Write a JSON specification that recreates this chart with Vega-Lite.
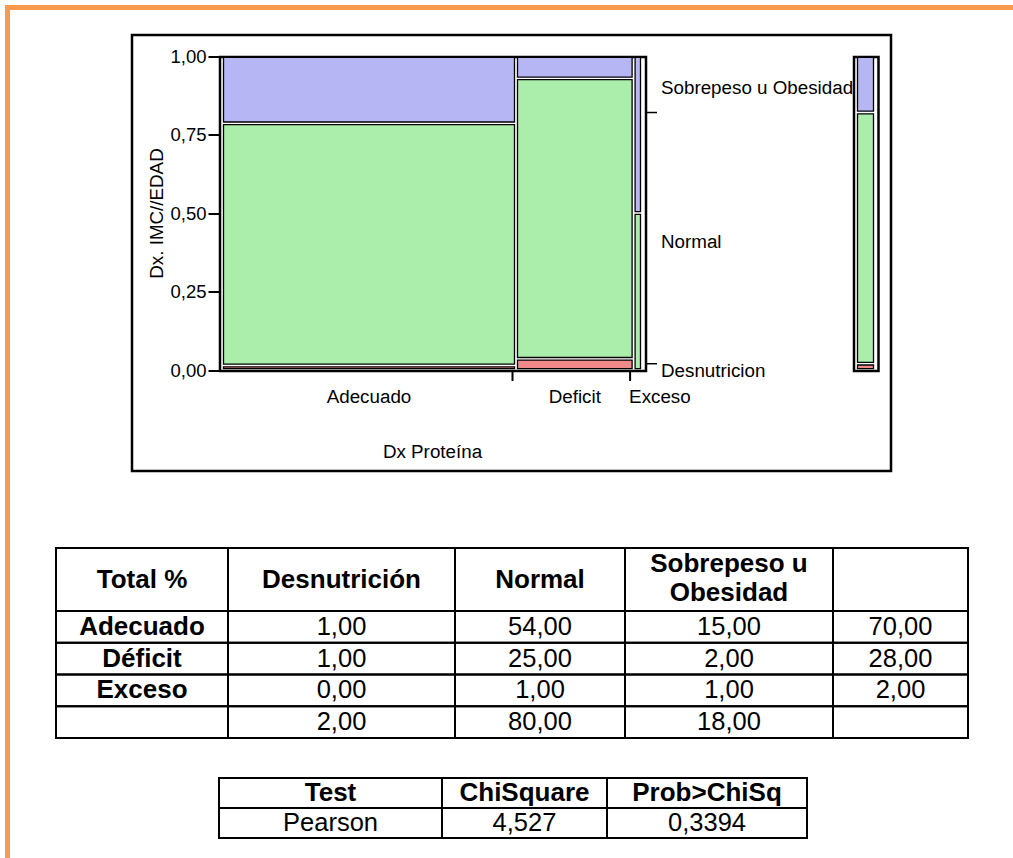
{
  "$schema": "https://vega.github.io/schema/vega-lite/v6.json",
  "width": 1005.5,
  "height": 850.5,
  "autosize": {"type": "none"},
  "padding": {"left": 7.5, "top": 7.5, "right": 0, "bottom": 0},
  "background": "white",
  "config": {
    "view": {"stroke": null},
    "font": "Liberation Sans",
    "locale": {"number": {"decimal": ",", "thousands": ".", "grouping": [3], "currency": ["", " €"]}},
    "axis": {"labelColor": "black", "titleColor": "black", "tickColor": "black", "domainColor": "black", "labelFont": "Liberation Sans", "titleFont": "Liberation Sans", "grid": false},
    "text": {"color": "black", "font": "Liberation Sans"}
  },
  "datasets": {
    "mosaico": [
      {"proteina": "Adecuado", "imc": "Desnutricion", "x0": 0, "x1": 0.70, "y0": 0, "y1": 0.0143},
      {"proteina": "Adecuado", "imc": "Normal", "x0": 0, "x1": 0.70, "y0": 0.0143, "y1": 0.7857},
      {"proteina": "Adecuado", "imc": "Sobrepeso u Obesidad", "x0": 0, "x1": 0.70, "y0": 0.7857, "y1": 1},
      {"proteina": "Deficit", "imc": "Desnutricion", "x0": 0.70, "x1": 0.98, "y0": 0, "y1": 0.0357},
      {"proteina": "Deficit", "imc": "Normal", "x0": 0.70, "x1": 0.98, "y0": 0.0357, "y1": 0.9286},
      {"proteina": "Deficit", "imc": "Sobrepeso u Obesidad", "x0": 0.70, "x1": 0.98, "y0": 0.9286, "y1": 1},
      {"proteina": "Exceso", "imc": "Normal", "x0": 0.98, "x1": 1, "y0": 0, "y1": 0.5},
      {"proteina": "Exceso", "imc": "Sobrepeso u Obesidad", "x0": 0.98, "x1": 1, "y0": 0.5, "y1": 1}
    ],
    "margen": [
      {"grupo": "Total", "imc": "Desnutricion", "y0": 0, "y1": 0.02},
      {"grupo": "Total", "imc": "Normal", "y0": 0.02, "y1": 0.82},
      {"grupo": "Total", "imc": "Sobrepeso u Obesidad", "y0": 0.82, "y1": 1}
    ],
    "columnas": [
      {"columna": "Total %", "titulo": "Total %"},
      {"columna": "Desnutrición", "titulo": "Desnutrición"},
      {"columna": "Normal", "titulo": "Normal"},
      {"columna": "Sobrepeso u Obesidad", "titulo": "Sobrepeso u\nObesidad"},
      {"columna": "Total", "titulo": ""}
    ],
    "filas": [{"fila": "Adecuado"}, {"fila": "Déficit"}, {"fila": "Exceso"}, {"fila": "Total"}],
    "tabla": [
      {"fila": "Adecuado", "columna": "Desnutrición", "porcentaje": 1},
      {"fila": "Adecuado", "columna": "Normal", "porcentaje": 54},
      {"fila": "Adecuado", "columna": "Sobrepeso u Obesidad", "porcentaje": 15},
      {"fila": "Adecuado", "columna": "Total", "porcentaje": 70},
      {"fila": "Déficit", "columna": "Desnutrición", "porcentaje": 1},
      {"fila": "Déficit", "columna": "Normal", "porcentaje": 25},
      {"fila": "Déficit", "columna": "Sobrepeso u Obesidad", "porcentaje": 2},
      {"fila": "Déficit", "columna": "Total", "porcentaje": 28},
      {"fila": "Exceso", "columna": "Desnutrición", "porcentaje": 0},
      {"fila": "Exceso", "columna": "Normal", "porcentaje": 1},
      {"fila": "Exceso", "columna": "Sobrepeso u Obesidad", "porcentaje": 1},
      {"fila": "Exceso", "columna": "Total", "porcentaje": 2},
      {"fila": "Total", "columna": "Desnutrición", "porcentaje": 2},
      {"fila": "Total", "columna": "Normal", "porcentaje": 80},
      {"fila": "Total", "columna": "Sobrepeso u Obesidad", "porcentaje": 18}
    ],
    "columnas_prueba": [{"columna": "Test"}, {"columna": "ChiSquare"}, {"columna": "Prob>ChiSq"}],
    "prueba": [{"prueba": "Pearson", "chi2": 4.527, "prob": 0.3394}]
  },
  "resolve": {"scale": {"x": "independent", "y": "independent"}},
  "layer": [
    {
      "data": {"values": [{}]},
      "mark": {"type": "rule", "color": "#F99A4E", "strokeWidth": 5},
      "encoding": {
        "x": {"datum": 0, "type": "quantitative", "scale": {"domain": [0, 1], "range": [-2.5, 1005.5], "nice": false, "zero": false}, "axis": null},
        "x2": {"datum": 1},
        "y": {"datum": 0, "type": "quantitative", "scale": {"domain": [0, 1], "range": [0, 850.5], "nice": false, "zero": false}, "axis": null}
      }
    },
    {
      "data": {"values": [{}]},
      "mark": {"type": "rule", "color": "#F99A4E", "strokeWidth": 5},
      "encoding": {
        "x": {"datum": 0, "type": "quantitative", "scale": {"domain": [0, 1], "range": [0, 1005.5], "nice": false, "zero": false}, "axis": null},
        "y": {"datum": 0, "type": "quantitative", "scale": {"domain": [0, 1], "range": [-2.5, 850.5], "nice": false, "zero": false}, "axis": null},
        "y2": {"datum": 1}
      }
    },
    {
      "data": {"values": [{}]},
      "mark": {"type": "rect", "filled": false, "stroke": "black", "strokeWidth": 2.5},
      "encoding": {
        "x": {"datum": "panel", "type": "nominal", "scale": {"type": "band", "domain": ["panel"], "range": [124.5, 883.5], "padding": 0}, "axis": null},
        "y": {"datum": "panel", "type": "nominal", "scale": {"type": "band", "domain": ["panel"], "range": [27.5, 463.5], "padding": 0}, "axis": null}
      }
    },
    {
      "data": {"values": [{}]},
      "mark": {"type": "rect", "filled": false, "stroke": "black", "strokeWidth": 2.5},
      "encoding": {
        "x": {"datum": "mosaico", "type": "nominal", "scale": {"type": "band", "domain": ["mosaico"], "range": [212.5, 638.5], "padding": 0}, "axis": null},
        "y": {"datum": "mosaico", "type": "nominal", "scale": {"type": "band", "domain": ["mosaico"], "range": [49.5, 363.5], "padding": 0}, "axis": null}
      }
    },
    {
      "data": {"name": "mosaico"},
      "mark": {"type": "rect", "stroke": "black", "strokeWidth": 1.3, "xOffset": 1.5, "x2Offset": -1.5, "yOffset": -1.3, "y2Offset": 1.3},
      "encoding": {
        "x": {"field": "x0", "type": "quantitative", "scale": {"domain": [0, 1], "range": [214.5, 634.5], "nice": false, "zero": false},
          "axis": {"orient": "bottom", "offset": -487, "ticks": false, "labels": false, "domain": false, "grid": false, "title": "Dx Proteína", "titleFontSize": 18.8, "titleFontWeight": "normal", "titleY": 80, "titleBaseline": "middle"}},
        "x2": {"field": "x1"},
        "y": {"field": "y0", "type": "quantitative", "scale": {"domain": [0, 1], "range": [362.5, 48.5], "nice": false, "zero": false},
          "axis": {"orient": "left", "offset": -212.5, "values": [0, 0.25, 0.5, 0.75, 1], "format": ".2f", "domain": false, "grid": false, "tickSize": 12, "tickWidth": 2, "labelPadding": 2, "labelFontSize": 18.5, "labelFlush": false, "labelOverlap": false, "title": "Dx. IMC//EDAD", "titleFontSize": 18.8, "titleFontWeight": "normal", "titleX": -64, "titleBaseline": "middle"}},
        "y2": {"field": "y1"},
        "color": {"field": "imc", "type": "nominal", "scale": {"domain": ["Desnutricion", "Normal", "Sobrepeso u Obesidad"], "range": ["#F08A8A", "#ABEDAB", "#B6B6F4"]}, "legend": null}
      }
    },
    {
      "data": {"name": "mosaico"},
      "transform": [{"filter": "datum.imc === 'Normal' && datum.x1 < 1"}],
      "mark": {"type": "rule", "color": "black", "strokeWidth": 2, "xOffset": -3.5, "yOffset": 1, "y2Offset": 11},
      "encoding": {
        "x": {"field": "x1", "type": "quantitative", "scale": {"domain": [0, 1], "range": [214.5, 634.5], "nice": false, "zero": false}, "axis": null},
        "y": {"datum": 0, "type": "quantitative", "scale": {"domain": [0, 1], "range": [362.5, 48.5], "nice": false, "zero": false}, "axis": null},
        "y2": {"datum": 0}
      }
    },
    {
      "data": {"name": "mosaico"},
      "transform": [
        {"filter": "datum.proteina !== 'Exceso'"},
        {"fold": ["x0", "x1"], "as": ["borde", "posicion"]},
        {"aggregate": [{"op": "mean", "field": "posicion", "as": "centro"}], "groupby": ["proteina"]}
      ],
      "mark": {"type": "text", "fontSize": 18.8, "baseline": "middle", "dy": 26.5},
      "encoding": {
        "x": {"field": "centro", "type": "quantitative", "scale": {"domain": [0, 1], "range": [214.5, 634.5], "nice": false, "zero": false}, "axis": null},
        "y": {"datum": 0, "type": "quantitative", "scale": {"domain": [0, 1], "range": [362.5, 48.5], "nice": false, "zero": false}, "axis": null},
        "text": {"field": "proteina"}
      }
    },
    {
      "data": {"name": "mosaico"},
      "transform": [
        {"filter": "datum.proteina === 'Exceso'"},
        {"aggregate": [{"op": "min", "field": "x0", "as": "inicio"}], "groupby": ["proteina"]}
      ],
      "mark": {"type": "text", "fontSize": 18.8, "baseline": "middle", "align": "left", "dx": -4.5, "dy": 26.5},
      "encoding": {
        "x": {"field": "inicio", "type": "quantitative", "scale": {"domain": [0, 1], "range": [214.5, 634.5], "nice": false, "zero": false}, "axis": null},
        "y": {"datum": 0, "type": "quantitative", "scale": {"domain": [0, 1], "range": [362.5, 48.5], "nice": false, "zero": false}, "axis": null},
        "text": {"field": "proteina"}
      }
    },
    {
      "data": {"name": "margen"},
      "transform": [{"filter": "datum.y1 < 1"}],
      "mark": {"type": "rule", "color": "black", "strokeWidth": 1.5, "xOffset": 4, "x2Offset": 15},
      "encoding": {
        "y": {"field": "y1", "type": "quantitative", "scale": {"domain": [0, 1], "range": [362.5, 48.5], "nice": false, "zero": false}, "axis": null},
        "x": {"datum": 1, "type": "quantitative", "scale": {"domain": [0, 1], "range": [214.5, 634.5], "nice": false, "zero": false}, "axis": null},
        "x2": {"datum": 1}
      }
    },
    {
      "data": {"name": "margen"},
      "transform": [
        {"fold": ["y0", "y1"], "as": ["borde", "posicion"]},
        {"aggregate": [{"op": "mean", "field": "posicion", "as": "centro"}], "groupby": ["imc"]}
      ],
      "mark": {"type": "text", "fontSize": 18.8, "align": "left", "baseline": "middle", "dx": 19, "dy": 4},
      "encoding": {
        "x": {"datum": 1, "type": "quantitative", "scale": {"domain": [0, 1], "range": [214.5, 634.5], "nice": false, "zero": false}, "axis": null},
        "y": {"field": "centro", "type": "quantitative", "scale": {"domain": [0, 1], "range": [362.5, 48.5], "nice": false, "zero": false}, "axis": null},
        "text": {"field": "imc"}
      }
    },
    {
      "data": {"values": [{}]},
      "mark": {"type": "rect", "filled": false, "stroke": "black", "strokeWidth": 2.5},
      "encoding": {
        "x": {"datum": "margen", "type": "nominal", "scale": {"type": "band", "domain": ["margen"], "range": [846.5, 871], "padding": 0}, "axis": null},
        "y": {"datum": "margen", "type": "nominal", "scale": {"type": "band", "domain": ["margen"], "range": [49.5, 363.5], "padding": 0}, "axis": null}
      }
    },
    {
      "data": {"name": "margen"},
      "mark": {"type": "rect", "stroke": "black", "strokeWidth": 1.3, "yOffset": -1.3, "y2Offset": 1.3},
      "encoding": {
        "x": {"field": "grupo", "type": "nominal", "scale": {"type": "band", "domain": ["Total"], "range": [850, 866], "padding": 0}, "axis": null},
        "y": {"field": "y0", "type": "quantitative", "scale": {"domain": [0, 1], "range": [362.5, 48.5], "nice": false, "zero": false}, "axis": null},
        "y2": {"field": "y1"},
        "color": {"field": "imc", "type": "nominal", "scale": {"domain": ["Desnutricion", "Normal", "Sobrepeso u Obesidad"], "range": ["#F08A8A", "#ABEDAB", "#B6B6F4"]}, "legend": null}
      }
    },

    {
      "data": {"name": "columnas"},
      "transform": [{"filter": {"field": "columna", "equal": "Total %"}}],
      "mark": {"type": "rect", "filled": false, "stroke": "black", "strokeWidth": 2},
      "encoding": {
        "x": {"field": "columna", "type": "nominal", "scale": {"type": "band", "domain": ["Total %"], "range": [48.5, 220.5], "padding": 0}, "axis": null},
        "y": {"datum": "tabla", "type": "nominal", "scale": {"type": "band", "domain": ["tabla"], "range": [540.5, 730.5], "padding": 0}, "axis": null}
      }
    },
    {
      "data": {"name": "columnas"},
      "transform": [{"filter": {"field": "columna", "equal": "Desnutrición"}}],
      "mark": {"type": "rect", "filled": false, "stroke": "black", "strokeWidth": 2},
      "encoding": {
        "x": {"field": "columna", "type": "nominal", "scale": {"type": "band", "domain": ["Desnutrición"], "range": [220.5, 447.5], "padding": 0}, "axis": null},
        "y": {"datum": "tabla", "type": "nominal", "scale": {"type": "band", "domain": ["tabla"], "range": [540.5, 730.5], "padding": 0}, "axis": null}
      }
    },
    {
      "data": {"name": "columnas"},
      "transform": [{"filter": {"field": "columna", "equal": "Normal"}}],
      "mark": {"type": "rect", "filled": false, "stroke": "black", "strokeWidth": 2},
      "encoding": {
        "x": {"field": "columna", "type": "nominal", "scale": {"type": "band", "domain": ["Normal"], "range": [447.5, 617.5], "padding": 0}, "axis": null},
        "y": {"datum": "tabla", "type": "nominal", "scale": {"type": "band", "domain": ["tabla"], "range": [540.5, 730.5], "padding": 0}, "axis": null}
      }
    },
    {
      "data": {"name": "columnas"},
      "transform": [{"filter": {"field": "columna", "equal": "Sobrepeso u Obesidad"}}],
      "mark": {"type": "rect", "filled": false, "stroke": "black", "strokeWidth": 2},
      "encoding": {
        "x": {"field": "columna", "type": "nominal", "scale": {"type": "band", "domain": ["Sobrepeso u Obesidad"], "range": [617.5, 825.5], "padding": 0}, "axis": null},
        "y": {"datum": "tabla", "type": "nominal", "scale": {"type": "band", "domain": ["tabla"], "range": [540.5, 730.5], "padding": 0}, "axis": null}
      }
    },
    {
      "data": {"name": "columnas"},
      "transform": [{"filter": {"field": "columna", "equal": "Total"}}],
      "mark": {"type": "rect", "filled": false, "stroke": "black", "strokeWidth": 2},
      "encoding": {
        "x": {"field": "columna", "type": "nominal", "scale": {"type": "band", "domain": ["Total"], "range": [825.5, 960.5], "padding": 0}, "axis": null},
        "y": {"datum": "tabla", "type": "nominal", "scale": {"type": "band", "domain": ["tabla"], "range": [540.5, 730.5], "padding": 0}, "axis": null}
      }
    },
    {
      "data": {"name": "filas"},
      "mark": {"type": "rect", "filled": false, "stroke": "black", "strokeWidth": 2},
      "encoding": {
        "x": {"datum": "tabla", "type": "nominal", "scale": {"type": "band", "domain": ["tabla"], "range": [48.5, 960.5], "padding": 0}, "axis": null},
        "y": {"field": "fila", "type": "nominal", "scale": {"type": "band", "domain": ["Adecuado", "Déficit", "Exceso", "Total"], "range": [603.5, 730.5], "padding": 0}, "axis": null}
      }
    },
    {
      "data": {"name": "columnas"},
      "transform": [{"filter": {"field": "columna", "equal": "Total %"}}],
      "mark": {"type": "text", "fontSize": 26, "fontWeight": "bold", "baseline": "middle"},
      "encoding": {
        "x": {"field": "columna", "type": "nominal", "scale": {"type": "band", "domain": ["Total %"], "range": [48.5, 220.5], "padding": 0}, "axis": null},
        "y": {"datum": "encabezado", "type": "nominal", "scale": {"type": "band", "domain": ["encabezado"], "range": [540.5, 603.5], "padding": 0}, "axis": null},
        "text": {"field": "titulo"}
      }
    },
    {
      "data": {"name": "columnas"},
      "transform": [{"filter": {"field": "columna", "equal": "Desnutrición"}}],
      "mark": {"type": "text", "fontSize": 26, "fontWeight": "bold", "baseline": "middle"},
      "encoding": {
        "x": {"field": "columna", "type": "nominal", "scale": {"type": "band", "domain": ["Desnutrición"], "range": [220.5, 447.5], "padding": 0}, "axis": null},
        "y": {"datum": "encabezado", "type": "nominal", "scale": {"type": "band", "domain": ["encabezado"], "range": [540.5, 603.5], "padding": 0}, "axis": null},
        "text": {"field": "titulo"}
      }
    },
    {
      "data": {"name": "columnas"},
      "transform": [{"filter": {"field": "columna", "equal": "Normal"}}],
      "mark": {"type": "text", "fontSize": 26, "fontWeight": "bold", "baseline": "middle"},
      "encoding": {
        "x": {"field": "columna", "type": "nominal", "scale": {"type": "band", "domain": ["Normal"], "range": [447.5, 617.5], "padding": 0}, "axis": null},
        "y": {"datum": "encabezado", "type": "nominal", "scale": {"type": "band", "domain": ["encabezado"], "range": [540.5, 603.5], "padding": 0}, "axis": null},
        "text": {"field": "titulo"}
      }
    },
    {
      "data": {"name": "columnas"},
      "transform": [{"filter": {"field": "columna", "equal": "Sobrepeso u Obesidad"}}],
      "mark": {"type": "text", "fontSize": 26, "fontWeight": "bold", "baseline": "middle", "lineBreak": "\n", "lineHeight": 29, "dy": -15.5},
      "encoding": {
        "x": {"field": "columna", "type": "nominal", "scale": {"type": "band", "domain": ["Sobrepeso u Obesidad"], "range": [617.5, 825.5], "padding": 0}, "axis": null},
        "y": {"datum": "encabezado", "type": "nominal", "scale": {"type": "band", "domain": ["encabezado"], "range": [540.5, 603.5], "padding": 0}, "axis": null},
        "text": {"field": "titulo"}
      }
    },
    {
      "data": {"name": "filas"},
      "transform": [{"filter": "datum.fila !== 'Total'"}],
      "mark": {"type": "text", "fontSize": 26, "fontWeight": "bold", "baseline": "middle"},
      "encoding": {
        "x": {"datum": "Total %", "type": "nominal", "scale": {"type": "band", "domain": ["Total %"], "range": [48.5, 220.5], "padding": 0}, "axis": null},
        "y": {"field": "fila", "type": "nominal", "scale": {"type": "band", "domain": ["Adecuado", "Déficit", "Exceso", "Total"], "range": [603.5, 730.5], "padding": 0}, "axis": null},
        "text": {"field": "fila"}
      }
    },
    {
      "data": {"name": "tabla"},
      "transform": [{"filter": {"field": "columna", "equal": "Desnutrición"}}],
      "mark": {"type": "text", "fontSize": 25.5, "baseline": "middle"},
      "encoding": {
        "x": {"field": "columna", "type": "nominal", "scale": {"type": "band", "domain": ["Desnutrición"], "range": [220.5, 447.5], "padding": 0}, "axis": null},
        "y": {"field": "fila", "type": "nominal", "scale": {"type": "band", "domain": ["Adecuado", "Déficit", "Exceso", "Total"], "range": [603.5, 730.5], "padding": 0}, "axis": null},
        "text": {"field": "porcentaje", "type": "quantitative", "format": ".2f"}
      }
    },
    {
      "data": {"name": "tabla"},
      "transform": [{"filter": {"field": "columna", "equal": "Normal"}}],
      "mark": {"type": "text", "fontSize": 25.5, "baseline": "middle"},
      "encoding": {
        "x": {"field": "columna", "type": "nominal", "scale": {"type": "band", "domain": ["Normal"], "range": [447.5, 617.5], "padding": 0}, "axis": null},
        "y": {"field": "fila", "type": "nominal", "scale": {"type": "band", "domain": ["Adecuado", "Déficit", "Exceso", "Total"], "range": [603.5, 730.5], "padding": 0}, "axis": null},
        "text": {"field": "porcentaje", "type": "quantitative", "format": ".2f"}
      }
    },
    {
      "data": {"name": "tabla"},
      "transform": [{"filter": {"field": "columna", "equal": "Sobrepeso u Obesidad"}}],
      "mark": {"type": "text", "fontSize": 25.5, "baseline": "middle"},
      "encoding": {
        "x": {"field": "columna", "type": "nominal", "scale": {"type": "band", "domain": ["Sobrepeso u Obesidad"], "range": [617.5, 825.5], "padding": 0}, "axis": null},
        "y": {"field": "fila", "type": "nominal", "scale": {"type": "band", "domain": ["Adecuado", "Déficit", "Exceso", "Total"], "range": [603.5, 730.5], "padding": 0}, "axis": null},
        "text": {"field": "porcentaje", "type": "quantitative", "format": ".2f"}
      }
    },
    {
      "data": {"name": "tabla"},
      "transform": [{"filter": {"field": "columna", "equal": "Total"}}],
      "mark": {"type": "text", "fontSize": 25.5, "baseline": "middle"},
      "encoding": {
        "x": {"field": "columna", "type": "nominal", "scale": {"type": "band", "domain": ["Total"], "range": [825.5, 960.5], "padding": 0}, "axis": null},
        "y": {"field": "fila", "type": "nominal", "scale": {"type": "band", "domain": ["Adecuado", "Déficit", "Exceso", "Total"], "range": [603.5, 730.5], "padding": 0}, "axis": null},
        "text": {"field": "porcentaje", "type": "quantitative", "format": ".2f"}
      }
    },

    {
      "data": {"name": "columnas_prueba"},
      "transform": [{"filter": {"field": "columna", "equal": "Test"}}],
      "mark": {"type": "rect", "filled": false, "stroke": "black", "strokeWidth": 2},
      "encoding": {
        "x": {"field": "columna", "type": "nominal", "scale": {"type": "band", "domain": ["Test"], "range": [211.5, 434.5], "padding": 0}, "axis": null},
        "y": {"datum": "prueba", "type": "nominal", "scale": {"type": "band", "domain": ["prueba"], "range": [770.5, 830.5], "padding": 0}, "axis": null}
      }
    },
    {
      "data": {"name": "columnas_prueba"},
      "transform": [{"filter": {"field": "columna", "equal": "ChiSquare"}}],
      "mark": {"type": "rect", "filled": false, "stroke": "black", "strokeWidth": 2},
      "encoding": {
        "x": {"field": "columna", "type": "nominal", "scale": {"type": "band", "domain": ["ChiSquare"], "range": [434.5, 599.5], "padding": 0}, "axis": null},
        "y": {"datum": "prueba", "type": "nominal", "scale": {"type": "band", "domain": ["prueba"], "range": [770.5, 830.5], "padding": 0}, "axis": null}
      }
    },
    {
      "data": {"name": "columnas_prueba"},
      "transform": [{"filter": {"field": "columna", "equal": "Prob>ChiSq"}}],
      "mark": {"type": "rect", "filled": false, "stroke": "black", "strokeWidth": 2},
      "encoding": {
        "x": {"field": "columna", "type": "nominal", "scale": {"type": "band", "domain": ["Prob>ChiSq"], "range": [599.5, 799.5], "padding": 0}, "axis": null},
        "y": {"datum": "prueba", "type": "nominal", "scale": {"type": "band", "domain": ["prueba"], "range": [770.5, 830.5], "padding": 0}, "axis": null}
      }
    },
    {
      "data": {"name": "prueba"},
      "mark": {"type": "rect", "filled": false, "stroke": "black", "strokeWidth": 2},
      "encoding": {
        "x": {"datum": "prueba", "type": "nominal", "scale": {"type": "band", "domain": ["prueba"], "range": [211.5, 799.5], "padding": 0}, "axis": null},
        "y": {"datum": "encabezado", "type": "nominal", "scale": {"type": "band", "domain": ["encabezado", "Pearson"], "range": [770.5, 830.5], "padding": 0}, "axis": null}
      }
    },
    {
      "data": {"name": "columnas_prueba"},
      "transform": [{"filter": {"field": "columna", "equal": "Test"}}],
      "mark": {"type": "text", "fontSize": 26, "fontWeight": "bold", "baseline": "middle"},
      "encoding": {
        "x": {"field": "columna", "type": "nominal", "scale": {"type": "band", "domain": ["Test"], "range": [211.5, 434.5], "padding": 0}, "axis": null},
        "y": {"datum": "encabezado", "type": "nominal", "scale": {"type": "band", "domain": ["encabezado", "Pearson"], "range": [770.5, 830.5], "padding": 0}, "axis": null},
        "text": {"field": "columna"}
      }
    },
    {
      "data": {"name": "columnas_prueba"},
      "transform": [{"filter": {"field": "columna", "equal": "ChiSquare"}}],
      "mark": {"type": "text", "fontSize": 26, "fontWeight": "bold", "baseline": "middle"},
      "encoding": {
        "x": {"field": "columna", "type": "nominal", "scale": {"type": "band", "domain": ["ChiSquare"], "range": [434.5, 599.5], "padding": 0}, "axis": null},
        "y": {"datum": "encabezado", "type": "nominal", "scale": {"type": "band", "domain": ["encabezado", "Pearson"], "range": [770.5, 830.5], "padding": 0}, "axis": null},
        "text": {"field": "columna"}
      }
    },
    {
      "data": {"name": "columnas_prueba"},
      "transform": [{"filter": {"field": "columna", "equal": "Prob>ChiSq"}}],
      "mark": {"type": "text", "fontSize": 26, "fontWeight": "bold", "baseline": "middle"},
      "encoding": {
        "x": {"field": "columna", "type": "nominal", "scale": {"type": "band", "domain": ["Prob>ChiSq"], "range": [599.5, 799.5], "padding": 0}, "axis": null},
        "y": {"datum": "encabezado", "type": "nominal", "scale": {"type": "band", "domain": ["encabezado", "Pearson"], "range": [770.5, 830.5], "padding": 0}, "axis": null},
        "text": {"field": "columna"}
      }
    },
    {
      "data": {"name": "prueba"},
      "mark": {"type": "text", "fontSize": 25.5, "baseline": "middle"},
      "encoding": {
        "x": {"datum": "Test", "type": "nominal", "scale": {"type": "band", "domain": ["Test"], "range": [211.5, 434.5], "padding": 0}, "axis": null},
        "y": {"field": "prueba", "type": "nominal", "scale": {"type": "band", "domain": ["encabezado", "Pearson"], "range": [770.5, 830.5], "padding": 0}, "axis": null},
        "text": {"field": "prueba"}
      }
    },
    {
      "data": {"name": "prueba"},
      "mark": {"type": "text", "fontSize": 25.5, "baseline": "middle"},
      "encoding": {
        "x": {"datum": "ChiSquare", "type": "nominal", "scale": {"type": "band", "domain": ["ChiSquare"], "range": [434.5, 599.5], "padding": 0}, "axis": null},
        "y": {"field": "prueba", "type": "nominal", "scale": {"type": "band", "domain": ["encabezado", "Pearson"], "range": [770.5, 830.5], "padding": 0}, "axis": null},
        "text": {"field": "chi2", "type": "quantitative", "format": ".3f"}
      }
    },
    {
      "data": {"name": "prueba"},
      "mark": {"type": "text", "fontSize": 25.5, "baseline": "middle"},
      "encoding": {
        "x": {"datum": "Prob>ChiSq", "type": "nominal", "scale": {"type": "band", "domain": ["Prob>ChiSq"], "range": [599.5, 799.5], "padding": 0}, "axis": null},
        "y": {"field": "prueba", "type": "nominal", "scale": {"type": "band", "domain": ["encabezado", "Pearson"], "range": [770.5, 830.5], "padding": 0}, "axis": null},
        "text": {"field": "prob", "type": "quantitative", "format": ".4f"}
      }
    }
  ]
}
